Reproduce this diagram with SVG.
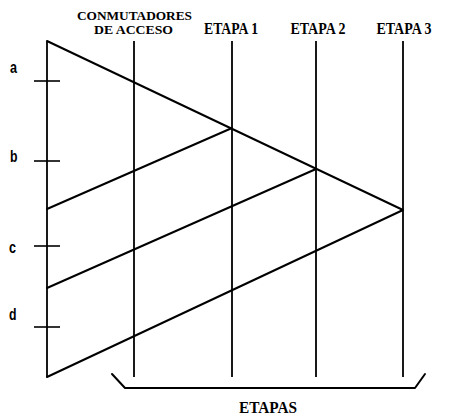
<svg xmlns="http://www.w3.org/2000/svg" width="449" height="419" viewBox="0 0 449 419">
<style>
.ln{stroke:#000;stroke-width:2;fill:none;stroke-linecap:round;stroke-linejoin:round}
.vl{stroke:#000;stroke-width:1.8;fill:none}
.tk{stroke:#000;stroke-width:1.6}
.hd{font-family:"Liberation Serif","Times New Roman",serif;font-weight:bold;fill:#000;text-anchor:middle}
.lb{font-family:"Liberation Sans",Arial,sans-serif;font-weight:bold;font-size:16px;fill:#000}
</style>
<rect width="449" height="419" fill="#fff"/>
<g id="headers">
<text class="hd" x="134.5" y="19.5" font-size="13.5" textLength="115" lengthAdjust="spacingAndGlyphs">CONMUTADORES</text>
<text class="hd" x="133.5" y="33.5" font-size="13.5" textLength="79" lengthAdjust="spacingAndGlyphs">DE ACCESO</text>
<text class="hd" x="231" y="33.5" font-size="17" textLength="54" lengthAdjust="spacingAndGlyphs">ETAPA 1</text>
<text class="hd" x="318" y="33.5" font-size="17" textLength="55" lengthAdjust="spacingAndGlyphs">ETAPA 2</text>
<text class="hd" x="404" y="33.5" font-size="17" textLength="55" lengthAdjust="spacingAndGlyphs">ETAPA 3</text>
</g>
<g id="inputs">
<line class="vl" x1="47" y1="41" x2="47" y2="377"/>
<line class="tk" x1="34" y1="81" x2="60" y2="81"/>
<line class="tk" x1="34" y1="161" x2="60" y2="161"/>
<line class="tk" x1="34" y1="246" x2="60" y2="246"/>
<line class="tk" x1="34" y1="327" x2="60" y2="327"/>
<text class="lb" x="10" y="73" textLength="7" lengthAdjust="spacingAndGlyphs">a</text>
<text class="lb" x="10" y="162" textLength="7.5" lengthAdjust="spacingAndGlyphs">b</text>
<text class="lb" x="9" y="253" textLength="7" lengthAdjust="spacingAndGlyphs">c</text>
<text class="lb" x="9" y="320" textLength="7.5" lengthAdjust="spacingAndGlyphs">d</text>
</g>
<g id="stages">
<line class="vl" x1="134" y1="41" x2="134" y2="377"/>
<line class="vl" x1="232" y1="41" x2="232" y2="377"/>
<line class="vl" x1="316" y1="41" x2="316" y2="377"/>
<line class="vl" x1="403" y1="41" x2="403" y2="377"/>
</g>
<g id="connectors">
<polyline class="ln" points="47,41 403,210 47,377"/>
<polyline class="ln" points="47,209 232,128"/>
<polyline class="ln" points="47,288 316,169"/>
</g>
<g id="brace">
<polyline class="ln" points="112,374 125,388 415,388 425,374"/>
<text class="hd" x="268" y="413" font-size="16" textLength="58" lengthAdjust="spacingAndGlyphs">ETAPAS</text>
</g>
</svg>
